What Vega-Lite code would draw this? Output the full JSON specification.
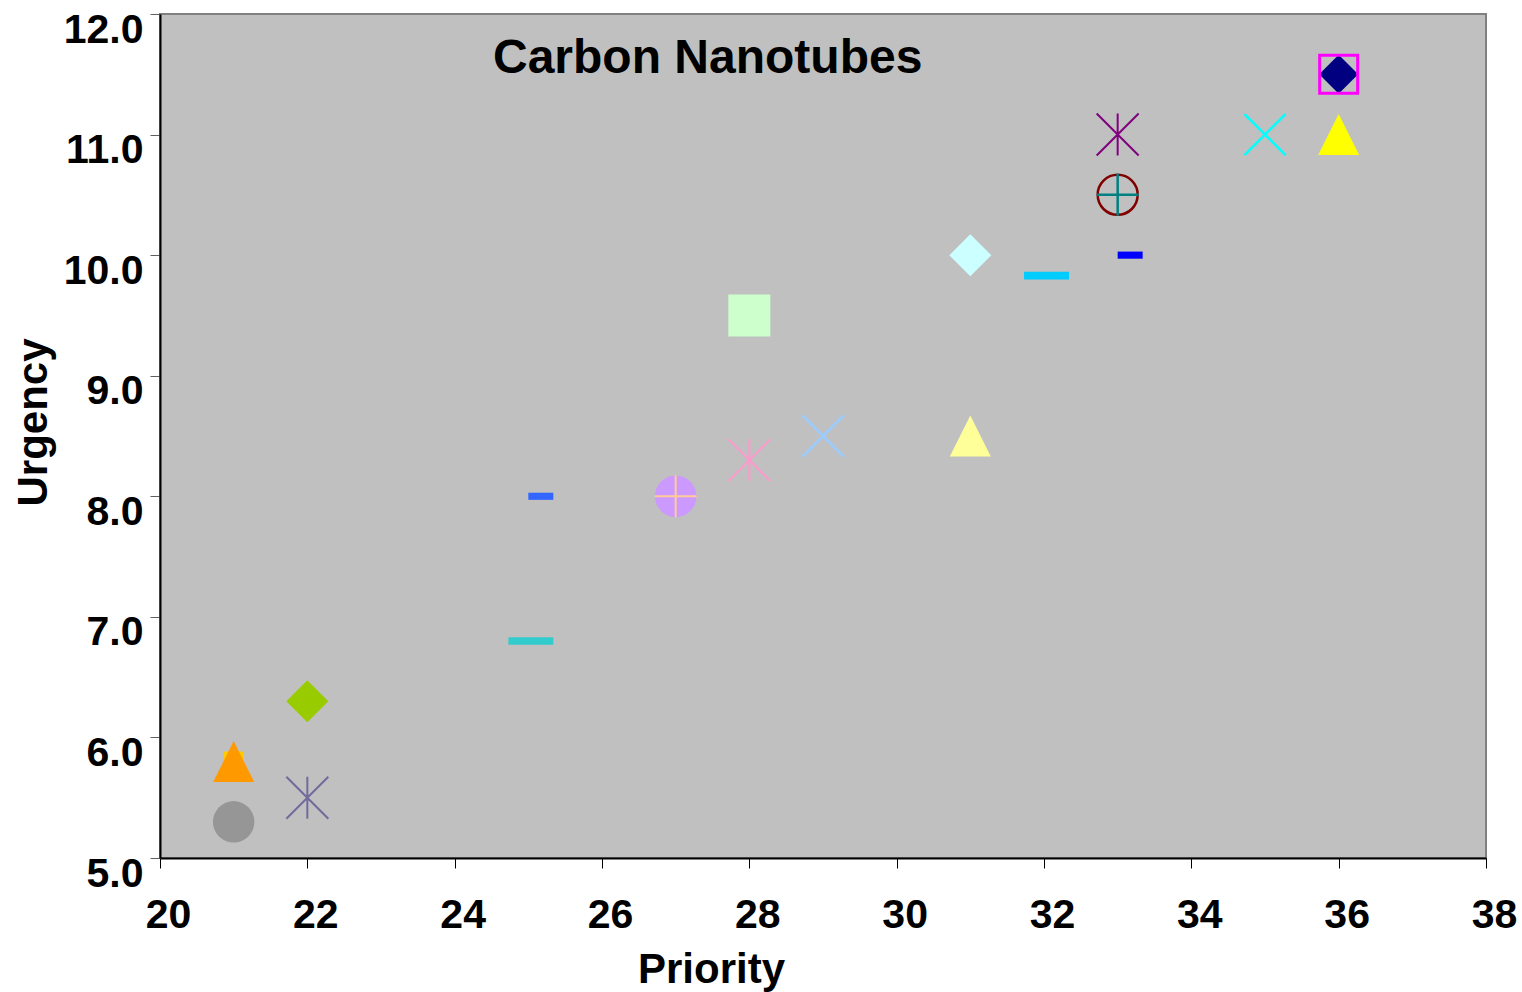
{
  "$schema": "https://vega.github.io/schema/vega-lite/v6.json",
  "width": 1326,
  "height": 844,
  "autosize": {"type": "none"},
  "padding": {"left": 160, "top": 14, "right": 36, "bottom": 134},
  "background": "white",
  "config": {
    "view": {"fill": "#c0c0c0", "stroke": "#808080", "strokeWidth": 2},
    "font": "Liberation Sans",
    "axis": {
      "grid": false,
      "domainColor": "#000000",
      "domainWidth": 2,
      "tickColor": "#000000",
      "tickWidth": 1,
      "tickSize": 10,
      "labelFont": "Liberation Sans",
      "labelFontWeight": "bold",
      "labelFontSize": 41,
      "labelColor": "#000000",
      "titleFont": "Liberation Sans",
      "titleFontWeight": "bold",
      "titleFontSize": 42,
      "titleColor": "#000000"
    }
  },
  "title": {
    "text": "Carbon Nanotubes",
    "anchor": "start",
    "frame": "group",
    "dx": 333,
    "dy": 49,
    "offset": -63,
    "baseline": "alphabetic",
    "font": "Liberation Sans",
    "fontWeight": "bold",
    "fontSize": 48,
    "color": "#000000"
  },
  "data": {
    "values": [
      {"s": "S01", "priority": 21, "urgency": 5.3},
      {"s": "S02", "priority": 21, "urgency": 5.8},
      {"s": "S03", "priority": 21, "urgency": 5.8},
      {"s": "S04", "priority": 22, "urgency": 6.3},
      {"s": "S05", "priority": 22, "urgency": 5.5},
      {"s": "S06", "priority": 25, "urgency": 6.8},
      {"s": "S07", "priority": 25, "urgency": 8.0},
      {"s": "S08", "priority": 27, "urgency": 8.0},
      {"s": "S09", "priority": 28, "urgency": 8.3},
      {"s": "S10", "priority": 28, "urgency": 9.5},
      {"s": "S11", "priority": 29, "urgency": 8.5},
      {"s": "S12", "priority": 31, "urgency": 8.5},
      {"s": "S13", "priority": 31, "urgency": 10.0},
      {"s": "S14", "priority": 32, "urgency": 9.83},
      {"s": "S15", "priority": 33, "urgency": 10.0},
      {"s": "S16", "priority": 33, "urgency": 10.5},
      {"s": "S17", "priority": 33, "urgency": 11.0},
      {"s": "S18", "priority": 35, "urgency": 11.0},
      {"s": "S19", "priority": 36, "urgency": 11.0},
      {"s": "S20", "priority": 36, "urgency": 11.5}
    ]
  },
  "encoding": {
    "x": {
      "field": "priority",
      "type": "quantitative",
      "title": "Priority",
      "scale": {"domain": [20, 38], "nice": false, "zero": false},
      "axis": {
        "values": [20, 22, 24, 26, 28, 30, 32, 34, 36, 38],
        "format": "d",
        "labelOffset": 8,
        "labelPadding": 59,
        "labelBaseline": "alphabetic",
        "labelFlush": false,
        "labelOverlap": false,
        "titleX": 551,
        "titleY": 124,
        "titleBaseline": "alphabetic"
      }
    },
    "y": {
      "field": "urgency",
      "type": "quantitative",
      "title": "Urgency",
      "scale": {"domain": [5, 12], "nice": false, "zero": false},
      "axis": {
        "values": [5, 6, 7, 8, 9, 10, 11, 12],
        "format": ".1f",
        "labelOffset": 28,
        "labelPadding": 7,
        "labelBaseline": "alphabetic",
        "labelFlush": false,
        "labelOverlap": false,
        "tickColor": "#606060",
        "titleX": -114,
        "titleY": 408,
        "titleBaseline": "alphabetic"
      }
    }
  },
  "layer": [
    {
      "transform": [{"filter": {"field": "s", "oneOf": ["S02"]}}],
      "mark": {"type": "point", "shape": "square", "size": 400, "filled": true, "opacity": 1, "strokeWidth": 0},
      "encoding": {"fill": {"field": "s", "type": "nominal", "legend": null,
        "scale": {"domain": ["S01","S02","S03","S04","S06","S07","S08","S10","S12","S13","S14","S15","S19","S20"],
                  "range": ["#969696","#ffcc00","#ff9900","#99cc00","#33cccc","#3366ff","#cc99ff","#ccffcc","#ffff99","#ccffff","#00ccff","#0000ff","#ffff00","#000080"]}}}
    },
    {
      "transform": [{"filter": {"field": "s", "oneOf": ["S01", "S08"]}}],
      "mark": {"type": "point", "shape": "circle", "size": 1722, "filled": true, "opacity": 1, "strokeWidth": 0},
      "encoding": {"fill": {"field": "s", "type": "nominal", "legend": null}}
    },
    {
      "transform": [{"filter": {"field": "s", "oneOf": ["S03", "S12", "S19"]}}],
      "mark": {"type": "point", "shape": "M0,-1L1,1L-1,1Z", "size": 1681, "filled": true, "opacity": 1, "strokeWidth": 0},
      "encoding": {"fill": {"field": "s", "type": "nominal", "legend": null}}
    },
    {
      "transform": [{"filter": {"field": "s", "oneOf": ["S04", "S13"]}}],
      "mark": {"type": "point", "shape": "diamond", "size": 1764, "filled": true, "opacity": 1, "strokeWidth": 0},
      "encoding": {"fill": {"field": "s", "type": "nominal", "legend": null}}
    },
    {
      "transform": [{"filter": {"field": "s", "oneOf": ["S20"]}}],
      "mark": {"type": "point", "shape": "diamond", "size": 1521, "filled": true, "opacity": 1, "strokeWidth": 0},
      "encoding": {"fill": {"field": "s", "type": "nominal", "legend": null}}
    },
    {
      "transform": [{"filter": {"field": "s", "oneOf": ["S10"]}}],
      "mark": {"type": "point", "shape": "square", "size": 1764, "filled": true, "opacity": 1, "strokeWidth": 0},
      "encoding": {"fill": {"field": "s", "type": "nominal", "legend": null}}
    },
    {
      "transform": [{"filter": {"field": "s", "oneOf": ["S06", "S14"]}}],
      "mark": {"type": "point", "shape": "M-0.95,-0.18L1.19,-0.18L1.19,0.18L-0.95,0.18Z", "size": 1764, "filled": true, "opacity": 1, "strokeWidth": 0},
      "encoding": {"fill": {"field": "s", "type": "nominal", "legend": null}}
    },
    {
      "transform": [{"filter": {"field": "s", "oneOf": ["S07", "S15"]}}],
      "mark": {"type": "point", "shape": "M0,-0.17L1.19,-0.17L1.19,0.17L0,0.17Z", "size": 1764, "filled": true, "opacity": 1, "strokeWidth": 0},
      "encoding": {"fill": {"field": "s", "type": "nominal", "legend": null}}
    },
    {
      "transform": [{"filter": {"field": "s", "oneOf": ["S05", "S09", "S17"]}}],
      "mark": {"type": "point", "shape": "M-1,-1L1,1M-1,1L1,-1M0,-1L0,1", "size": 1764, "filled": false, "opacity": 1, "strokeWidth": 2},
      "encoding": {"stroke": {"field": "s", "type": "nominal", "legend": null,
        "scale": {"domain": ["S05","S09","S11","S16","S17","S18","S20"],
                  "range": ["#736a9c","#ff99cc","#99ccff","#800000","#800080","#00ffff","#ff00ff"]}}}
    },
    {
      "transform": [{"filter": {"field": "s", "oneOf": ["S11", "S18"]}}],
      "mark": {"type": "point", "shape": "M-1,-1L1,1M-1,1L1,-1", "size": 1681, "filled": false, "opacity": 1, "strokeWidth": 2.5},
      "encoding": {"stroke": {"field": "s", "type": "nominal", "legend": null}}
    },
    {
      "transform": [{"filter": {"field": "s", "oneOf": ["S16"]}}],
      "mark": {"type": "point", "shape": "circle", "size": 1600, "filled": false, "opacity": 1, "strokeWidth": 2.5},
      "encoding": {"stroke": {"field": "s", "type": "nominal", "legend": null}}
    },
    {
      "transform": [{"filter": {"field": "s", "oneOf": ["S20"]}}],
      "mark": {"type": "point", "shape": "square", "size": 1444, "filled": false, "opacity": 1, "strokeWidth": 3},
      "encoding": {"stroke": {"field": "s", "type": "nominal", "legend": null}}
    },
    {
      "transform": [{"filter": {"field": "s", "oneOf": ["S08"]}}],
      "mark": {"type": "point", "shape": "M-1,0L1,0M0,-1L0,1", "size": 1764, "filled": false, "opacity": 1, "strokeWidth": 2, "stroke": "#ffcc99"},
      "encoding": {}
    },
    {
      "transform": [{"filter": {"field": "s", "oneOf": ["S16"]}}],
      "mark": {"type": "point", "shape": "M-1,0L1,0M0,-1L0,1", "size": 1764, "filled": false, "opacity": 1, "strokeWidth": 2.5, "stroke": "#008080"},
      "encoding": {}
    }
  ]
}
